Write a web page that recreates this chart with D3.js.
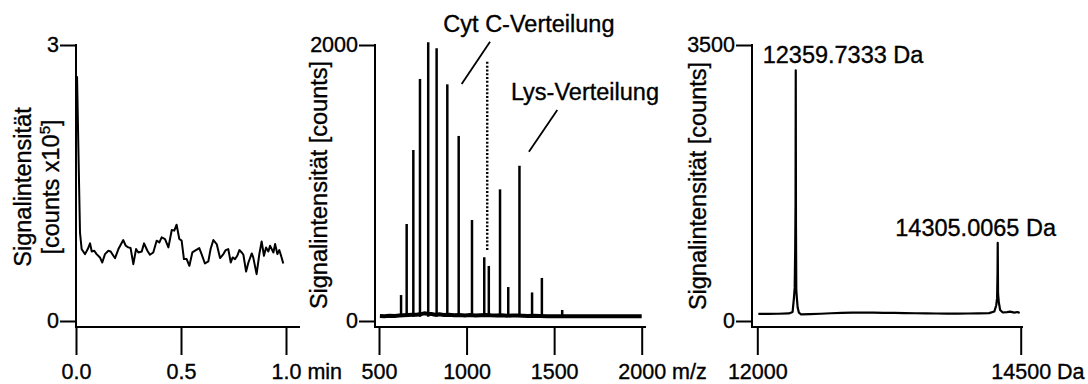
<!DOCTYPE html>
<html>
<head>
<meta charset="utf-8">
<script src="https://cdn.jsdelivr.net/npm/d3@7"></script>
<style>
  body { margin: 0; background: #fff; }
  svg text { font-family: "Liberation Sans", Arial, sans-serif; fill: #000; stroke: #000; stroke-width: 0.35px; }
</style>
</head>
<body>
<div id="chart"></div>
<script>
// panel 1: total ion signal over time
const timeMin = [0.005, 0.012, 0.019, 0.027, 0.043, 0.056, 0.067, 0.075, 0.087, 0.098,
  0.114, 0.125, 0.138, 0.154, 0.165, 0.178, 0.186, 0.202, 0.225, 0.237,
  0.249, 0.260, 0.273, 0.286, 0.297, 0.313, 0.324, 0.340, 0.352, 0.368,
  0.384, 0.397, 0.408, 0.424, 0.440, 0.456, 0.468, 0.479, 0.492, 0.503,
  0.514, 0.527, 0.540, 0.554, 0.567, 0.587, 0.598, 0.614, 0.630, 0.641,
  0.654, 0.670, 0.686, 0.702, 0.713, 0.725, 0.737, 0.746, 0.757, 0.768,
  0.778, 0.789, 0.797, 0.810, 0.821, 0.837, 0.844, 0.860, 0.873, 0.884,
  0.895, 0.905, 0.916, 0.924, 0.940, 0.948, 0.959, 0.968, 0.979, 0.987];
const signal = [2.66, 1.80, 0.96, 0.78, 0.727, 0.782, 0.844, 0.756, 0.764, 0.727,
  0.691, 0.636, 0.727, 0.764, 0.756, 0.709, 0.684, 0.782, 0.880, 0.818,
  0.800, 0.793, 0.618, 0.782, 0.745, 0.756, 0.844, 0.764, 0.720, 0.745,
  0.873, 0.854, 0.909, 0.891, 0.800, 0.989, 0.982, 1.047, 0.891, 0.873,
  0.673, 0.673, 0.600, 0.745, 0.764, 0.793, 0.727, 0.625, 0.647, 0.782,
  0.880, 0.836, 0.684, 0.727, 0.771, 0.782, 0.636, 0.691, 0.673, 0.709,
  0.771, 0.745, 0.720, 0.538, 0.636, 0.734, 0.691, 0.509, 0.727, 0.865,
  0.709, 0.800, 0.756, 0.818, 0.745, 0.836, 0.727, 0.771, 0.691, 0.625];

// panel 2: m/z spectrum (peaks + baseline)
const peakMz = [626, 658, 696, 734, 781, 829, 890, 955, 1031, 1101, 1127, 1191, 1238, 1302, 1374, 1430, 1546];
const peakInt = [188, 703, 1239, 1754, 2020, 1976, 1715, 1341, 732, 462, 399, 954, 246, 1125, 207, 312, 80];
const baseMz = [505, 530, 560, 590, 615, 640, 665, 690, 715, 740, 760, 775, 800, 820, 845, 870, 900, 930, 960, 990,
  1020, 1050, 1080, 1110, 1140, 1170, 1200, 1230, 1260, 1290, 1320, 1350, 1380, 1420, 1460, 1500, 1560, 1620, 1700, 1780,
  1860, 1940, 2000];
const baseInt = [36, 34, 38, 36, 40, 42, 44, 46, 45, 50, 56, 52, 50, 46, 48, 44, 46, 42, 44, 40,
  43, 40, 42, 44, 41, 39, 42, 38, 40, 39, 38, 36, 38, 36, 35, 35, 34, 35, 34, 34,
  35, 34, 34];
const splitMz = 1118;
const splitRange = [514, 1879];

// panel 3: deconvoluted mass spectrum
const mass = [12010, 12100, 12200, 12300, 12335, 12347, 12355, 12360, 12363, 12365,
  12367, 12370, 12375, 12383, 12395, 12415, 12500, 12600, 12700, 12800,
  12900, 13000, 13100, 13200, 13300, 13400, 13500, 13600, 13700, 13800,
  13900, 14000, 14100, 14200, 14250, 14268, 14276, 14280, 14282, 14285,
  14292, 14305, 14330, 14370, 14400, 14440, 14470, 14490];
const massInt = [90, 90, 92, 96, 115, 280, 420, 950, 1500, 3180,
  1200, 400, 300, 170, 105, 85, 88, 92, 98, 102,
  106, 108, 106, 104, 102, 100, 98, 96, 95, 94,
  94, 95, 97, 100, 120, 200, 290, 600, 992, 350,
  240, 140, 108, 112, 118, 106, 114, 102];

const xTicks1 = [0, 0.5, 1], yTicks1 = [0, 3];
const xTicks2 = [500, 1000, 1500, 2000], yTicks2 = [0, 2000];
const xTicks3 = [12000, 14500], yTicks3 = [0, 3500];

const W = 1088, H = 384;
const axisY = 327;
const tickFont = "21.5px", labelFont = "23.5px";

const svg = d3.select("#chart").append("svg")
  .attr("width", W).attr("height", H);

// shared axis drawing
function drawAxes(x, y, opts) {
  const yAxisX = opts.yAxisX;
  const gy = svg.append("g")
    .attr("transform", `translate(${yAxisX},0)`)
    .call(d3.axisLeft(y).tickValues(opts.yTicks).tickSize(16).tickPadding(1).tickFormat(d3.format("d")));
  gy.select(".domain").remove();
  gy.selectAll("line").attr("stroke", "#000").attr("stroke-width", 2);
  gy.selectAll("text").style("font-size", tickFont);

  svg.append("line")
    .attr("x1", yAxisX).attr("x2", yAxisX)
    .attr("y1", y(opts.yTicks[opts.yTicks.length - 1]) - 1).attr("y2", axisY)
    .attr("stroke", "#000").attr("stroke-width", 2);

  const gx = svg.append("g")
    .attr("transform", `translate(0,${axisY})`)
    .call(d3.axisBottom(x).tickValues(opts.xTicks).tickSize(28).tickPadding(9).tickFormat(opts.xFormat));
  gx.select(".domain").remove();
  gx.selectAll("line").attr("stroke", "#000").attr("stroke-width", 2);
  gx.selectAll("text").style("font-size", tickFont);

  svg.append("line")
    .attr("x1", yAxisX - 1).attr("x2", opts.xEnd)
    .attr("y1", axisY).attr("y2", axisY)
    .attr("stroke", "#000").attr("stroke-width", 2);

  // unit after the last tick label
  const last = gx.selectAll(".tick text").filter((d, i, n) => i === n.length - 1);
  const w = last.node().getComputedTextLength();
  last.attr("text-anchor", "start").attr("x", -w / 2);
  last.append("tspan").text(opts.unit);
}

function yLabel(x, yc) {
  return svg.append("text")
    .attr("transform", `translate(${x},${yc}) rotate(-90)`)
    .attr("text-anchor", "middle")
    .style("font-size", labelFont);
}

// ---------- panel 1 ----------
const x1 = d3.scaleLinear().domain([0, 1]).range([76, 286]);
const y1 = d3.scaleLinear().domain([0, 3]).range([321, 45]);
drawAxes(x1, y1, { yAxisX: 76, xEnd: 300, xTicks: xTicks1, yTicks: yTicks1, xFormat: d3.format(".1f"), unit: " min" });

svg.append("path")
  .datum(timeMin.map((t, i) => [t, signal[i]]))
  .attr("fill", "none").attr("stroke", "#000").attr("stroke-width", 2)
  .attr("stroke-linejoin", "round")
  .attr("d", d3.line().x(d => x1(d[0])).y(d => y1(d[1])));

yLabel(30.5, 187).text("Signalintensität");
const l2 = yLabel(59, 187);
l2.append("tspan").text("[counts x10");
l2.append("tspan").text("5").style("font-size", "15px").attr("dy", -9);
l2.append("tspan").text("]").attr("dy", 9);

// ---------- panel 2 ----------
const x2 = d3.scaleLinear().domain([500, 2000]).range([379, 641.7]);
const y2 = d3.scaleLinear().domain([0, 2000]).range([321, 45]);
drawAxes(x2, y2, { yAxisX: 375, xEnd: 646, xTicks: xTicks2, yTicks: yTicks2, xFormat: d3.format("d"), unit: " m/z" });

svg.append("path")
  .datum(baseMz.map((m, i) => [m, baseInt[i]]))
  .attr("fill", "none").attr("stroke", "#000").attr("stroke-width", 4)
  .attr("d", d3.line().x(d => x2(d[0])).y(d => y2(d[1])));

svg.append("g").selectAll("line")
  .data(peakMz.map((m, i) => [m, peakInt[i]]))
  .join("line")
  .attr("x1", d => x2(d[0])).attr("x2", d => x2(d[0]))
  .attr("y1", y2(30)).attr("y2", d => y2(d[1]))
  .attr("stroke", "#000").attr("stroke-width", 2.5);

svg.append("line")
  .attr("x1", x2(splitMz)).attr("x2", x2(splitMz))
  .attr("y1", y2(splitRange[0])).attr("y2", y2(splitRange[1]))
  .attr("stroke", "#000").attr("stroke-width", 2.4)
  .attr("stroke-dasharray", "2 1.8");

svg.append("text").attr("x", x2(1356)).attr("y", y2(2094))
  .attr("text-anchor", "middle").style("font-size", labelFont).text("Cyt C-Verteilung");
svg.append("line").attr("x1", x2(1134)).attr("y1", y2(2024)).attr("x2", x2(972)).attr("y2", y2(1717))
  .attr("stroke", "#000").attr("stroke-width", 1.8);
svg.append("text").attr("x", x2(1676)).attr("y", y2(1601))
  .attr("text-anchor", "middle").style("font-size", labelFont).text("Lys-Verteilung");
svg.append("line").attr("x1", x2(1518)).attr("y1", y2(1529)).attr("x2", x2(1356)).attr("y2", y2(1227))
  .attr("stroke", "#000").attr("stroke-width", 1.8);

yLabel(327, 185).text("Signalintensität [counts]");

// ---------- panel 3 ----------
const x3 = d3.scaleLinear().domain([12000, 14500]).range([757.3, 1020.7]);
const y3 = d3.scaleLinear().domain([0, 3500]).range([321, 45]);
drawAxes(x3, y3, { yAxisX: 752, xEnd: 1023, xTicks: xTicks3, yTicks: yTicks3, xFormat: d3.format("d"), unit: " Da" });

svg.append("path")
  .datum(mass.map((m, i) => [m, massInt[i]]))
  .attr("fill", "none").attr("stroke", "#000").attr("stroke-width", 2.2)
  .attr("stroke-linejoin", "round")
  .attr("d", d3.line().x(d => x3(d[0])).y(d => y3(d[1])));

svg.append("text").attr("x", x3(12051)).attr("y", y3(3268))
  .style("font-size", labelFont).text("12359.7333 Da");
svg.append("text").attr("x", x3(14835)).attr("y", y3(1075))
  .attr("text-anchor", "end").style("font-size", labelFont).text("14305.0065 Da");

yLabel(705.5, 186).text("Signalintensität [counts]");
</script>
</body>
</html>
